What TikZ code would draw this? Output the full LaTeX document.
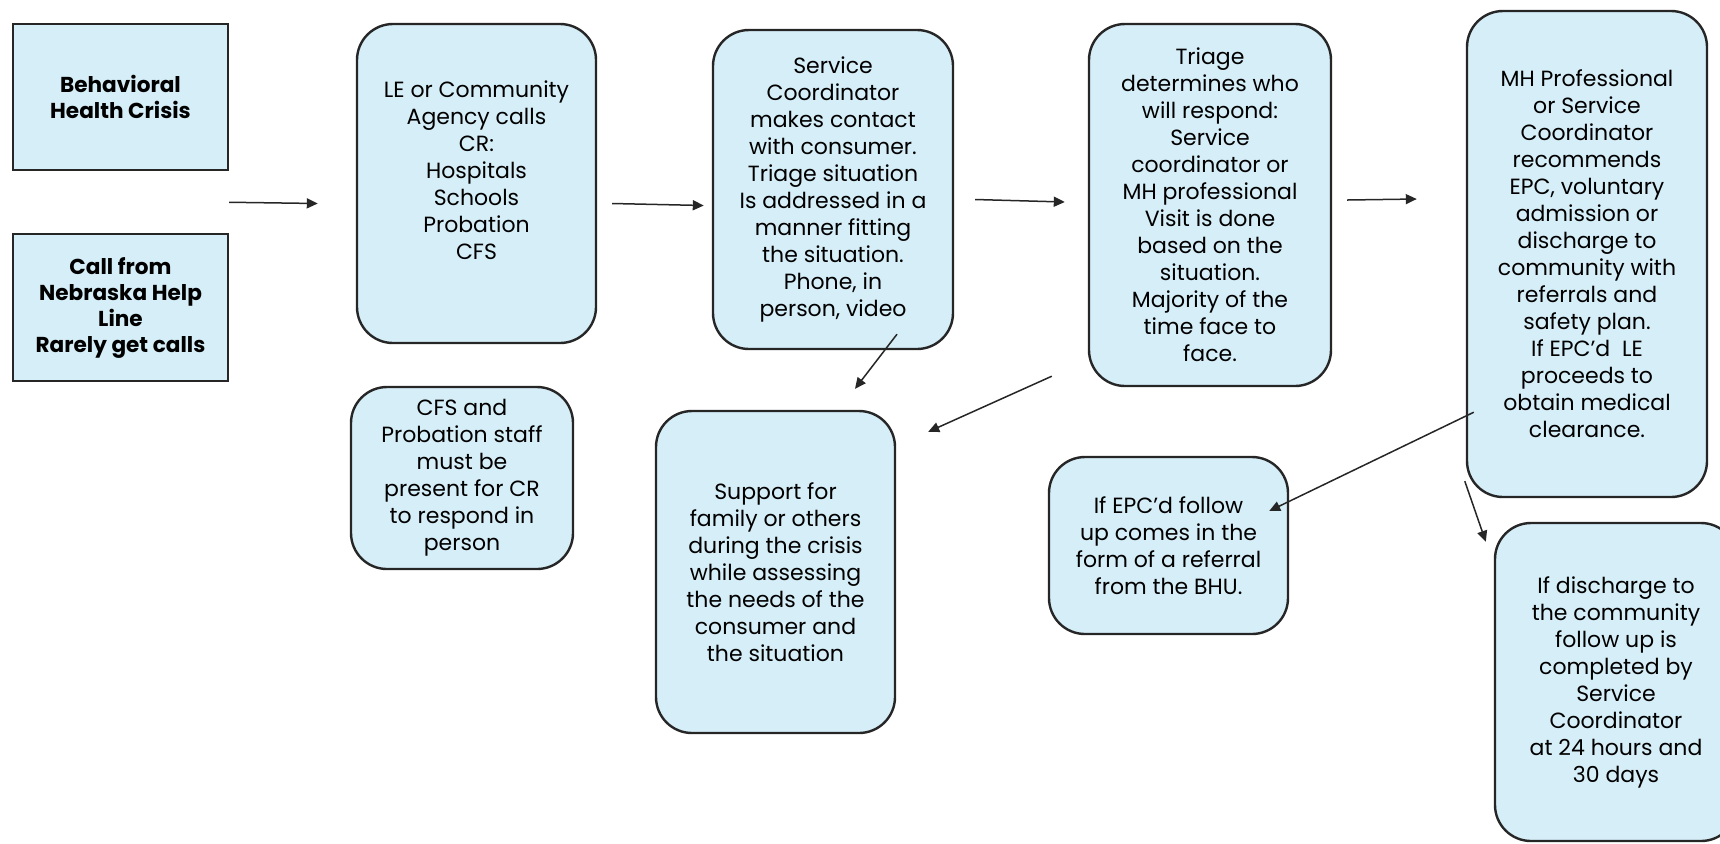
\documentclass[tikz,border=0pt]{standalone}
\usepackage{fontspec}
\setmainfont{Poppins}
\usepackage{xcolor}
\usetikzlibrary{arrows.meta, positioning, calc}

\definecolor{boxblue}{RGB}{214,238,248}
\definecolor{edgegray}{RGB}{38,38,38}

\begin{document}
\begin{tikzpicture}[
    x=0.5pt, y=-0.5pt,
    box/.style={rectangle, draw=edgegray, fill=boxblue, line width=1.2pt, align=center, inner sep=2pt, font=\fontsize{11}{13.5}\selectfont},
    roundbox/.style={box, rounded corners=18pt},
    boldbox/.style={box, font=\fontsize{10.8}{13}\selectfont\bfseries},
    wh/.style 2 args={minimum width=#1*0.5pt, minimum height=#2*0.5pt},
    arrow/.style={-{Triangle[length=5.5pt, width=5pt]}, line width=0.75pt, draw=edgegray}
]
\useasboundingbox (0,0) rectangle (1720,843);

% Entry points
\node[boldbox, wh={215}{146}] (crisis) at (120.5,97) {Behavioral\\Health Crisis};
\node[boldbox, wh={215}{147}] (helpline) at (120.5,307.5) {Call from\\Nebraska Help\\Line\\Rarely get calls};

% Top row
\node[roundbox, wh={239}{319}] (agency) at (476.5,183.5) {
    LE or Community\\Agency calls\\CR:\\Hospitals\\Schools\\Probation\\CFS\\ \mbox{}
};
\node[roundbox, wh={240}{319}] (contact) at (833,189.5) {
    Service\\Coordinator\\makes contact\\with consumer.\\Triage situation\\Is addressed in a\\manner fitting\\the situation.\\Phone, in\\person, video
};
\node[roundbox, wh={242}{362}] (triage) at (1210,205) {
    Triage\\determines who\\will respond:\\Service\\coordinator or\\MH professional\\Visit is done\\based on the\\situation.\\Majority of the\\time face to\\face.
};
\node[roundbox, wh={240}{486}] (recommend) at (1587,254) {
    MH Professional\\or Service\\Coordinator\\recommends\\EPC, voluntary\\admission or\\discharge to\\community with\\referrals and\\safety plan.\\If EPC’d\ \ LE\\proceeds to\\obtain medical\\clearance.
};

% Lower row
\node[roundbox, wh={222}{182}] (staff) at (462,478) {
    CFS and\\Probation staff\\must be\\present for CR\\to respond in\\person
};
\node[roundbox, wh={239}{322}] (support) at (775.5,572) {
    Support for\\family or others\\during the crisis\\while assessing\\the needs of the\\consumer and\\the situation
};
\node[roundbox, wh={239}{177}] (epc) at (1168.5,545.5) {
    If EPC’d follow\\up comes in the\\form of a referral\\from the BHU.
};
\node[roundbox, wh={242}{318}] (discharge) at (1616,682) {
    If discharge to\\the community\\follow up is\\completed by\\Service\\Coordinator\\at 24 hours and\\30 days
};

% Arrows
\draw[arrow] ($(crisis.east)!0.5!(helpline.east)$) -- ([shift={(-38,20)}]agency.west);
\draw[arrow] ([shift={(15,20)}]agency.east) -- ([shift={(-8,16)}]contact.west);
\draw[arrow] ([shift={(21,10)}]contact.east) -- ([shift={(-23,-3)}]triage.west);
\draw[arrow] ([shift={(15,-5)}]triage.east) -- ([shift={(-49,-55)}]recommend.west);
\draw[arrow] ([shift={(64,-16)}]contact.south) -- ([shift={(79.5,-21)}]support.north);
\draw[arrow] ([shift={(-36,-11)}]triage.south west) -- ([shift={(32,22)}]support.north east);
\draw[arrow] ([shift={(8,-86)}]recommend.south west) -- ([shift={(-20,-34.5)}]epc.east);
\draw[arrow] ([shift={(-1,-17)}]recommend.south west) -- ([shift={(-8,20)}]discharge.north west);

\end{tikzpicture}
\end{document}
